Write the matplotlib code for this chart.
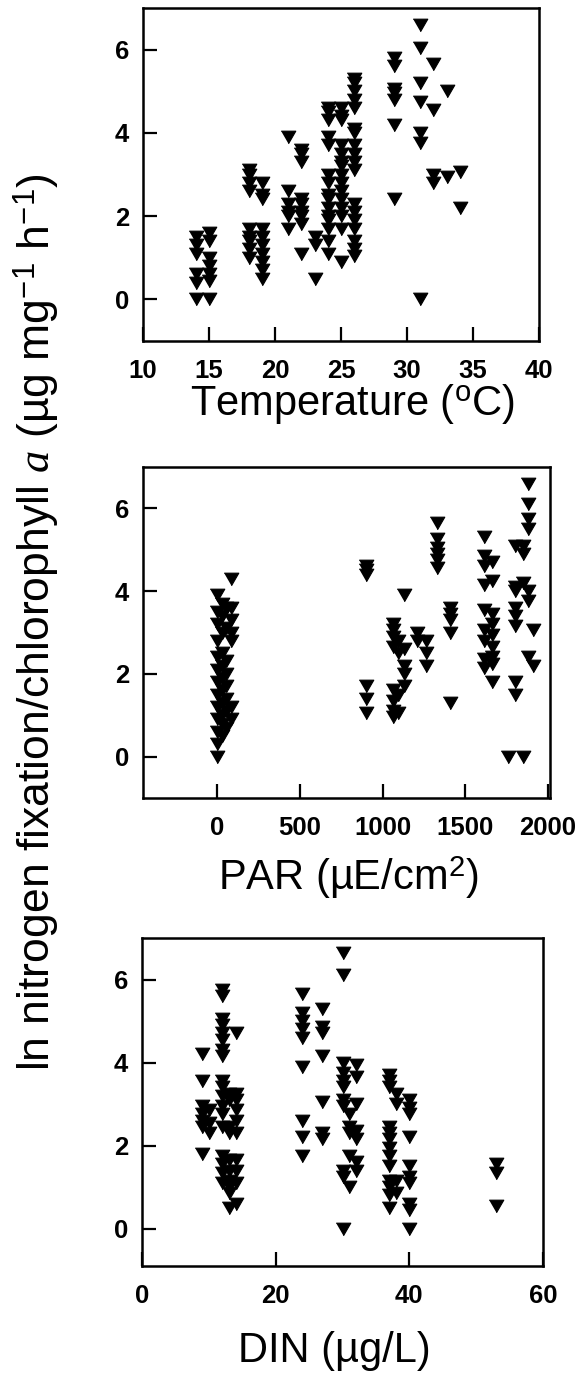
import matplotlib
matplotlib.use("Agg")
import matplotlib.pyplot as plt

plt.rcParams["font.family"] = ["Liberation Sans", "DejaVu Sans"]
plt.rcParams["mathtext.fontset"] = "custom"
plt.rcParams["mathtext.rm"] = "Liberation Sans"
plt.rcParams["mathtext.it"] = "Liberation Serif:italic"

# panel 1: temperature (deg C) vs ln fixation
temp_c = [14, 14, 14, 14, 14, 14,
          15, 15, 15, 15, 15, 15, 15,
          18, 18, 18, 18, 18, 18, 18, 18, 18,
          19, 19, 19, 19, 19, 19, 19, 19, 19, 19,
          21, 21, 21, 21, 21, 21,
          22, 22, 22, 22, 22, 22, 22, 22, 22,
          23, 23, 23,
          24, 24, 24, 24, 24, 24, 24, 24, 24, 24, 24, 24, 24, 24, 24,
          25, 25, 25, 25, 25, 25, 25, 25, 25, 25, 25, 25, 25, 25, 25,
          26, 26, 26, 26, 26, 26, 26, 26, 26, 26, 26, 26, 26, 26, 26, 26, 26, 26,
          29, 29, 29, 29, 29, 29, 29,
          31, 31, 31, 31, 31, 31, 31,
          32, 32, 32, 32,
          33, 33,
          34, 34]
temp_fix = [1.5, 1.3, 1.1, 0.6, 0.4, 0.0,
            1.6, 1.4, 1.0, 0.8, 0.6, 0.45, 0.0,
            3.1, 3.0, 2.8, 2.6, 1.7, 1.5, 1.4, 1.2, 1.0,
            2.8, 2.5, 2.4, 1.7, 1.5, 1.3, 1.1, 0.9, 0.7, 0.5,
            3.9, 2.6, 2.3, 2.1, 2.0, 1.7,
            3.6, 3.5, 3.3, 2.4, 2.3, 2.1, 2.0, 1.8, 1.1,
            1.5, 1.3, 0.5,
            4.6, 4.5, 4.3, 3.9, 3.7, 3.0, 2.8, 2.5, 2.4, 2.2, 2.0, 1.9, 1.7, 1.4, 1.1,
            4.6, 4.4, 4.3, 3.7, 3.5, 3.3, 3.2, 3.0, 2.8, 2.6, 2.4, 2.2, 2.0, 1.7, 0.9,
            5.3, 5.2, 5.0, 4.8, 4.6, 4.1, 4.0, 3.7, 3.5, 3.3, 3.1, 2.3, 2.1, 1.9, 1.7, 1.4, 1.2, 1.05,
            5.8, 5.6, 5.05, 4.95, 4.8, 4.2, 2.4,
            6.6, 6.05, 5.2, 4.75, 4.0, 3.75, 0.0,
            5.65, 4.55, 3.0, 2.8,
            5.0, 2.95,
            3.05, 2.2]

# panel 2: PAR vs ln fixation
par = [0, 0, 0, 0, 0, 0, 0, 0, 0, 0, 0, 0, 0,
       25, 25, 25, 25, 25, 25, 25, 25, 25, 25, 25,
       50, 50, 50, 50, 50, 50, 50, 50,
       80, 80, 80, 80, 80, 80, 80,
       900, 900, 900, 900, 900, 900,
       1060, 1060, 1060, 1060, 1060, 1060, 1060, 1060,
       1090, 1090, 1090, 1090,
       1130, 1130, 1130, 1130, 1130,
       1210, 1210,
       1260, 1260, 1260,
       1330, 1330, 1330, 1330, 1330, 1330,
       1410, 1410, 1410, 1410, 1410,
       1610, 1610, 1610, 1610, 1610, 1610, 1610, 1610, 1610,
       1660, 1660, 1660, 1660, 1660, 1660, 1660, 1660, 1660,
       1760,
       1800, 1800, 1800, 1800, 1800, 1800, 1800, 1800,
       1850, 1850, 1850, 1850,
       1880, 1880, 1880, 1880, 1880, 1880, 1880,
       1910, 1910]
par_fix = [0.0, 0.3, 0.6, 0.9, 1.2, 1.5, 1.8, 2.1, 2.4, 2.8, 3.2, 3.5, 3.9,
           0.5, 0.8, 1.0, 1.3, 1.6, 1.9, 2.2, 2.5, 3.0, 3.4, 3.7,
           0.7, 1.1, 1.4, 1.7, 2.0, 2.3, 3.1, 3.6,
           0.9, 1.2, 2.8, 3.0, 3.3, 3.6, 4.3,
           4.6, 4.5, 4.4, 1.7, 1.4, 1.05,
           3.2, 3.05, 2.9, 2.65, 1.6, 1.35, 1.1, 0.95,
           2.8, 2.5, 1.5, 1.05,
           3.9, 2.6, 2.2, 2.0, 1.7,
           3.0, 2.8,
           2.8, 2.5, 2.2,
           5.65, 5.25, 5.05, 4.9, 4.75, 4.55,
           3.6, 3.45, 3.3, 3.0, 1.3,
           5.3, 4.85, 4.6, 4.15, 3.55, 3.05, 2.8, 2.35, 2.15,
           4.7, 4.25, 3.45, 3.2, 2.95, 2.65, 2.4, 2.25, 1.8,
           0.0,
           5.1, 4.1, 4.0, 3.6, 3.4, 3.15, 1.8, 1.5,
           5.1, 4.9, 4.2, 0.0,
           6.6, 6.1, 5.75, 5.5, 4.0, 3.75, 2.4,
           3.05, 2.2]

# panel 3: DIN (ug/L) vs ln fixation
din = [9, 9, 9, 9, 9, 9, 9,
       10, 10, 10,
       12, 12, 12, 12, 12, 12, 12, 12, 12, 12, 12, 12, 12, 12, 12, 12, 12, 12,
       13, 13, 13, 13, 13, 13, 13, 13, 13, 13,
       14, 14, 14, 14, 14, 14, 14, 14, 14, 14,
       24, 24, 24, 24, 24, 24, 24, 24, 24,
       27, 27, 27, 27, 27, 27, 27,
       30, 30, 30, 30, 30, 30, 30, 30, 30, 30, 30,
       31, 31, 31, 31, 31,
       32, 32, 32, 32, 32, 32, 32,
       37, 37, 37, 37, 37, 37, 37, 37, 37, 37, 37, 37, 37,
       38, 38, 38, 38,
       40, 40, 40, 40, 40, 40, 40, 40, 40, 40,
       53, 53, 53]
din_fix = [4.2, 3.55, 2.95, 2.75, 2.6, 2.45, 1.8,
           2.85, 2.55, 2.3,
           5.75, 5.6, 5.05, 4.9, 4.7, 4.55, 4.3, 4.15, 3.55, 3.4, 3.2, 2.95, 2.75, 2.45, 1.75, 1.55, 1.35, 1.1,
           3.25, 3.1, 2.45, 2.3, 1.65, 1.4, 1.15, 1.0, 0.85, 0.5,
           4.7, 3.25, 3.1, 2.85, 2.6, 2.3, 1.65, 1.4, 1.1, 0.6,
           5.65, 5.2, 5.0, 4.8, 4.6, 3.9, 2.6, 2.2, 1.75,
           5.3, 4.85, 4.7, 4.15, 3.05, 2.3, 2.15,
           6.65, 6.1, 4.0, 3.75, 3.55, 3.4, 3.1, 2.95, 1.4, 1.25, 0.0,
           2.75, 2.45, 2.3, 1.75, 1.0,
           3.95, 3.65, 3.0, 2.35, 2.15, 1.6, 1.4,
           3.7, 3.55, 3.4, 2.45, 2.3, 2.15, 1.95, 1.75, 1.5, 1.15, 1.0, 0.8, 0.5,
           3.25, 3.0, 1.15, 0.85,
           3.1, 2.9, 2.75, 2.2, 1.5, 1.25, 1.1, 0.6, 0.45, 0.0,
           1.55, 1.35, 0.55]

W, H = 581, 1374
TRI = [(-1, 0.866), (1, 0.866), (0, -0.866)]


def _painel(rect, x, y, xlim, ylim, xticks):
    ax = fig.add_axes(rect)
    ax.plot(x, y, linestyle="none", marker=TRI, markersize=10.5, color="black", mew=0.8, clip_on=False)
    ax.set_xlim(*xlim); ax.set_ylim(*ylim)
    ax.set_xticks(xticks); ax.set_yticks([0, 2, 4, 6])
    ax.tick_params(direction="in", length=10, width=1.6, labelsize=18.5, top=False, right=False)
    ax.tick_params(axis="x", pad=13); ax.tick_params(axis="y", pad=10)
    for lb in ax.get_xticklabels() + ax.get_yticklabels():
        lb.set_fontweight("bold")
    for s in ax.spines.values():
        s.set_linewidth(1.8)
    return ax


def _px(l, t, r, b):
    return [l / W, 1 - b / H, (r - l) / W, (b - t) / H]


fig = plt.figure(figsize=(W / 100, H / 100), dpi=100)
_painel(_px(143, 8, 539, 341), temp_c, temp_fix, (10, 40), (-1, 7), range(10, 41, 5))
_painel(_px(143, 467, 550, 798), par, par_fix, (-450, 2012), (-1, 7), range(0, 2001, 500))
_painel(_px(142, 938, 543, 1266), din, din_fix, (0, 60), (-0.9, 7), range(0, 61, 20))

fig.text(352 / W, 1 - 415 / H, r"Temperature ($^{\mathrm{o}}$C)", ha="center", va="baseline", fontsize=30)
fig.text(348 / W, 1 - 890 / H, r"PAR (µE/cm$^{2}$)", ha="center", va="baseline", fontsize=30)
fig.text(334 / W, 1 - 1362 / H, r"DIN (µg/L)", ha="center", va="baseline", fontsize=30)
fig.text(50 / W, 1 - 622 / H, r"ln nitrogen fixation/chlorophyll $\mathit{a}$ (µg mg$^{-1}$ h$^{-1}$)",
         rotation=90, rotation_mode="anchor", ha="center", va="baseline", fontsize=32)

fig.savefig("out.png", dpi=100)
